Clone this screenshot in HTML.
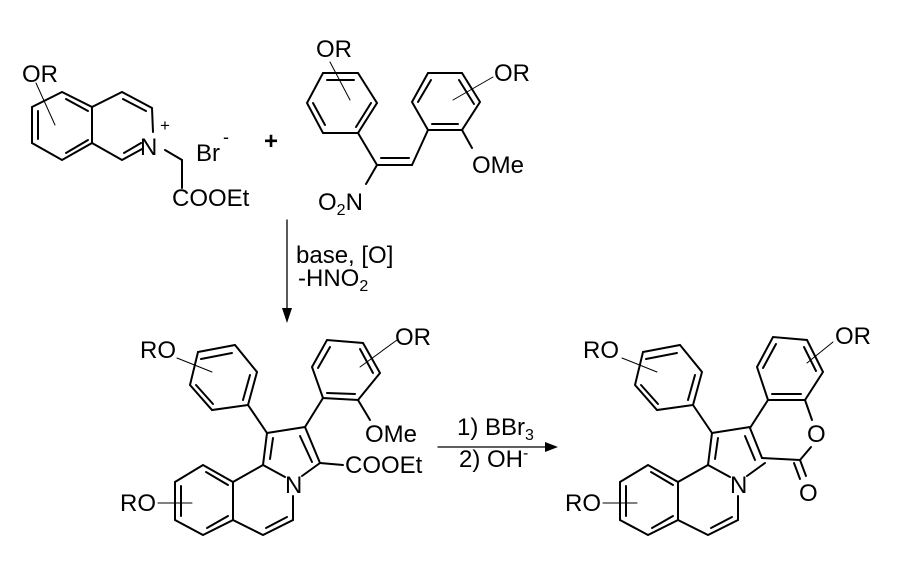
<!DOCTYPE html>
<html><head><meta charset="utf-8"><style>
html,body{margin:0;padding:0;background:#fff}
svg{display:block}
text{font-family:"Liberation Sans",Arial,sans-serif;font-size:24px;fill:#000}
</style></head><body>
<svg width="900" height="562" viewBox="0 0 900 562" xmlns="http://www.w3.org/2000/svg">
<g stroke="#000" stroke-width="2" fill="none" stroke-linecap="round">
<polygon points="62,92 32,107 32,143 62,160 92,143 92,107"/>
<polyline points="92,107 122,92 152,108 153,132"/>
<polyline points="92,143 122,160 142,149"/>
<line x1="38" y1="111" x2="38" y2="139"/>
<line x1="66" y1="153" x2="88" y2="140"/>
<line x1="66" y1="99" x2="88" y2="111"/>
<line x1="123" y1="99" x2="146" y2="111"/>
<line x1="124" y1="153" x2="141" y2="143"/>
<line x1="36" y1="83" x2="55" y2="125" stroke-width="1"/>
<polyline points="165,150 182,160 182,188"/>
<polygon points="323,73 358,73 377,103 358,133 323,133 307,103"/>
<line x1="327" y1="80" x2="354" y2="80"/>
<line x1="371" y1="103" x2="356" y2="127"/>
<line x1="313" y1="103" x2="325" y2="125"/>
<line x1="330" y1="62" x2="350" y2="100" stroke-width="1"/>
<line x1="358" y1="133" x2="377" y2="165"/>
<line x1="377" y1="165" x2="412" y2="165"/>
<line x1="381" y1="158" x2="409" y2="158"/>
<line x1="412" y1="165" x2="428" y2="130"/>
<line x1="377" y1="165" x2="366" y2="184"/>
<polygon points="428,130 412,102 428,73 462,73 480,102 462,130"/>
<line x1="418" y1="102" x2="431" y2="80"/>
<line x1="459" y1="80" x2="474" y2="104"/>
<line x1="432" y1="124" x2="458" y2="124"/>
<line x1="462" y1="130" x2="472" y2="148"/>
<line x1="453" y1="100" x2="493" y2="77" stroke-width="1"/>
<line x1="287" y1="220" x2="287" y2="312" stroke-width="1.3"/>
<line x1="438" y1="447" x2="550" y2="447" stroke-width="1.3"/>
</g>
<polygon points="282,308 292,308 287,323" fill="#000"/>
<polygon points="545,442 545,452 558,447" fill="#000"/>

<g id="core" stroke="#000" stroke-width="2" fill="none" stroke-linecap="round">
<polygon points="198,352 235,345 257,372 248,405 212,410 190,385"/>
<line x1="201" y1="359" x2="232" y2="353"/>
<line x1="250" y1="375" x2="243" y2="400"/>
<line x1="196" y1="385" x2="213" y2="404"/>
<line x1="177" y1="358" x2="212" y2="372" stroke-width="1"/>
<line x1="248" y1="405" x2="267" y2="433"/>
<line x1="267" y1="433" x2="305" y2="427"/>
<line x1="263" y1="465" x2="267" y2="433"/>
<line x1="270" y1="459" x2="273" y2="438"/>
<line x1="263" y1="465" x2="285" y2="477"/>
<line x1="302" y1="476" x2="320" y2="463"/>
<polyline points="263,465 233,482 233,520 263,535 293,520 293,496"/>
<polygon points="233,482 203,465 175,482 175,520 203,535 233,520"/>
<line x1="206" y1="472" x2="228" y2="485"/>
<line x1="181" y1="486" x2="181" y2="516"/>
<line x1="207" y1="528" x2="228" y2="516"/>
<line x1="266" y1="528" x2="287" y2="517"/>
<line x1="158" y1="503" x2="192" y2="503" stroke-width="1"/>
</g>
<g stroke="#000" stroke-width="2" fill="none" stroke-linecap="round">
<line x1="305" y1="427" x2="320" y2="463"/>
<line x1="300" y1="436" x2="312" y2="462"/>
<line x1="305" y1="427" x2="323" y2="398"/>
<polygon points="323,398 312,367 327,340 363,343 380,373 358,400"/>
<line x1="318" y1="368" x2="330" y2="347"/>
<line x1="360" y1="349" x2="373" y2="373"/>
<line x1="327" y1="393" x2="355" y2="394"/>
<line x1="358" y1="400" x2="370" y2="420"/>
<line x1="360" y1="367" x2="397" y2="340" stroke-width="1"/>
<line x1="320" y1="463" x2="343" y2="465"/>
</g>
<use href="#core" transform="translate(445,0)"/>
<g stroke="#000" stroke-width="2" fill="none" stroke-linecap="round">
<line x1="750" y1="428" x2="762" y2="458"/>
<line x1="745" y1="436" x2="755" y2="460"/>
<line x1="750" y1="428" x2="768" y2="400"/>
<polygon points="768,400 757,367 773,337 807,340 823,372 805,400"/>
<line x1="763" y1="368" x2="776" y2="344"/>
<line x1="804" y1="347" x2="816" y2="371"/>
<line x1="772" y1="394" x2="801" y2="394"/>
<line x1="805" y1="400" x2="812" y2="420"/>
<line x1="807" y1="363" x2="833" y2="342" stroke-width="1"/>
<line x1="762" y1="458" x2="800" y2="460"/>
<line x1="800" y1="460" x2="811" y2="447"/>
<line x1="800" y1="460" x2="806" y2="476"/>
<line x1="794" y1="463" x2="800" y2="479"/>
</g>

<text x="22" y="82">OR</text>
<text x="140" y="155">N</text>
<text x="160" y="131" style="font-size:17px">+</text>
<text x="196" y="161">Br</text>
<text x="223" y="143" style="font-size:18px">-</text>
<text x="264" y="149" style="font-weight:bold">+</text>
<text x="172" y="206">COOEt</text>
<text x="316" y="57">OR</text>
<text x="494" y="81">OR</text>
<text x="472" y="173">OMe</text>
<text x="318" y="210">O<tspan style="font-size:16px" dy="5">2</tspan><tspan dy="-5">N</tspan></text>
<text x="296" y="263">base, [O]</text>
<text x="298" y="286">-HNO<tspan style="font-size:16px" dy="5">2</tspan></text>
<text x="140" y="358">RO</text>
<text x="395" y="345">OR</text>
<text x="365" y="442">OMe</text>
<text x="345" y="473">COOEt</text>
<text x="285" y="493">N</text>
<text x="120" y="511">RO</text>
<text x="457" y="435">1) BBr<tspan style="font-size:16px" dy="5">3</tspan></text>
<text x="459" y="467">2) OH<tspan style="font-size:16px" dy="-9">-</tspan></text>
<text x="583" y="358">RO</text>
<text x="835" y="344">OR</text>
<text x="730" y="493">N</text>
<text x="807" y="442">O</text>
<text x="799" y="501">O</text>
<text x="565" y="511">RO</text>
</svg>
</body></html>
